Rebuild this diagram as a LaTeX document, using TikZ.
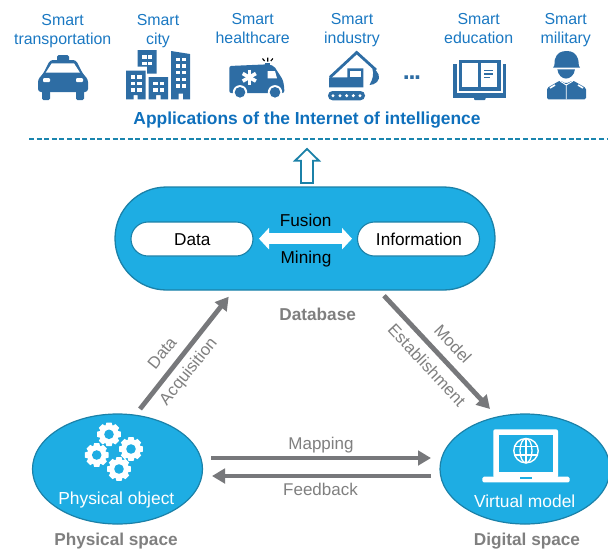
\documentclass[tikz,border=0pt]{standalone}
\usepackage{fontspec}
\setmainfont{Liberation Sans}
\usetikzlibrary{shapes.geometric,shapes.misc,arrows.meta}
\definecolor{icon}{HTML}{2E6DA4}
\definecolor{toptext}{HTML}{1A78C2}
\definecolor{title}{HTML}{0F70BC}
\definecolor{sky}{HTML}{1EADE3}
\definecolor{skyline}{HTML}{1B81A8}
\definecolor{arrowgray}{HTML}{77787B}
\definecolor{labelgray}{HTML}{7F7F7F}
\tikzset{
  lab/.style={anchor=base,inner sep=0pt,font=\fontsize{15.9}{18}\selectfont,text=toptext},
  graylab/.style={anchor=base,inner sep=0pt,font=\fontsize{17}{20}\selectfont,text=labelgray},
  spacelab/.style={anchor=base,inner sep=0pt,font=\fontsize{17.2}{20}\selectfont\bfseries,text=labelgray},
  whitelab/.style={anchor=base,inner sep=0pt,font=\fontsize{17.4}{20}\selectfont,text=white},
  blacklab/.style={anchor=base,inner sep=0pt,font=\fontsize{17.2}{20}\selectfont,text=black},
  rotlab/.style={anchor=center,inner sep=0pt,font=\fontsize{16.7}{20}\selectfont,text=labelgray},
  spaceshape/.style={ellipse,draw=skyline,fill=sky,line width=1.2pt,minimum width=170pt,minimum height=110pt,inner sep=0pt},
  pillwhite/.style={rounded rectangle,draw=skyline,fill=white,line width=1.1pt,minimum width=122pt,minimum height=34pt,inner sep=0pt},
  flow/.style={draw=arrowgray,line width=4.8pt,-{Triangle[length=13pt,width=14.5pt]}},
  win/.style={fill=white},
  ic/.style={fill=icon}
}
\newcommand{\winbox}[2]{\fill[win] (#1,#2) rectangle +(4.2,3.6);}
\newcommand{\gearicon}[2]{%
  \foreach \a in {0,45,...,315}{\fill[white,shift={(#1,#2)},rotate=\a] (-2.6,-11.8) -- (2.6,-11.8) -- (3.6,-8) -- (-3.6,-8) -- cycle;}
  \fill[white] (#1,#2) circle[radius=9.6];
  \fill[sky] (#1,#2) circle[radius=4.8];}
\begin{document}
\begin{tikzpicture}[x=1pt,y=-1pt]
\useasboundingbox (0,0) rectangle (608,550);

% top labels
\node[lab] (l1a) at (62.7,25) {Smart};
\node[lab] (l1b) at (62.7,44) {transportation};
\node[lab] (l2a) at (158,25) {Smart};
\node[lab] (l2b) at (158,44) {city};
\node[lab] (l3a) at (252.7,24) {Smart};
\node[lab] (l3b) at (252.7,43) {healthcare};
\node[lab] (l4a) at (352,24) {Smart};
\node[lab] (l4b) at (352,43) {industry};
\node[lab] (l5a) at (478.7,24) {Smart};
\node[lab] (l5b) at (478.7,43) {education};
\node[lab] (l6a) at (565.7,24) {Smart};
\node[lab] (l6b) at (565.7,43) {military};
\node[anchor=base,inner sep=0pt,font=\fontsize{25}{26}\selectfont\bfseries,text=icon] (dots) at (412,79.5) {.\kern-1.4pt.\kern-1.4pt.};
\node[anchor=base,inner sep=0pt,font=\fontsize{17.4}{20}\selectfont\bfseries,text=title] (apptitle) at (307,124) {Applications of the Internet of intelligence};
\draw[skyline!90!sky,line width=1.3pt,dash pattern=on 5pt off 2.6pt] (29,139) -- (607,139);

% taxi
\fill[ic,rounded corners=1.5pt] (57,61.5) -- (57,55) -- (69,55) -- (69,61.5) -- cycle;
\fill[ic,rounded corners=3pt] (50,60) -- (76,60) -- (83,74) -- (88,79) -- (88,92) -- (38,92) -- (38,79) -- (43,74) -- cycle;
\fill[ic,rounded corners=1.5pt] (42,88) rectangle (50,100);
\fill[ic,rounded corners=1.5pt] (76,88) rectangle (84,100);
\fill[white] (45.7,72.7) -- (51.7,63.3) -- (74,63.3) -- (80,72.7) -- cycle;
\fill[white,rounded corners=1pt] (43,78) rectangle (50,82);
\fill[white,rounded corners=1pt] (76,78) rectangle (83,82);

% city
\fill[ic] (137.5,50) -- (156.7,50) -- (156.7,73.5) -- (147,73.5) -- (147,66.5) -- (137.5,66.5) -- cycle;
\fill[ic] (126,70.7) -- (145.5,70.7) -- (145.5,99.3) -- (137.7,99.3) -- (137.7,95) -- (133.5,95) -- (133.5,99.3) -- (126,99.3) -- cycle;
\fill[ic] (148.7,77) -- (168,77) -- (168,99.3) -- (160.5,99.3) -- (160.5,95) -- (156,95) -- (156,99.3) -- (148.7,99.3) -- cycle;
\fill[ic] (171,51) -- (190,54) -- (190,99.3) -- (183,99.3) -- (183,93.5) -- (178.5,93.5) -- (178.5,99.3) -- (171,99.3) -- cycle;
\foreach \x in {142.3,147.7}{\foreach \y in {55,61.6}{\winbox{\x}{\y}}}
\foreach \x in {130.7,137.3}{\foreach \y in {75,81.7,88.3}{\winbox{\x}{\y}}}
\foreach \x in {153.3,160}{\foreach \y in {81.7,88.3}{\winbox{\x}{\y}}}
\foreach \x in {175.7,181.7}{\foreach \y in {57.5,64.2,70.8,77.5,84.2}{\winbox{\x}{\y}}}

% ambulance
\fill[ic,rounded corners=2pt] (229.3,66) -- (268,64.3) -- (274,66) -- (283,80) -- (284.3,88) -- (284.3,93) -- (229.3,93) -- cycle;
\fill[ic] (265,62.7) rectangle (270,66);
\draw[black,line width=1.1pt] (267.7,57.5) -- (267.7,61.5) (262.5,58.5) -- (264.6,61) (272.9,58.5) -- (270.8,61);
\fill[white] (267.7,71) -- (275,71) -- (277,78.3) -- (267.7,78.3) -- cycle;
\foreach \a in {0,60,120}{\draw[white,line width=3.6pt,shift={(249.3,77.3)},rotate=\a] (0,-7.6) -- (0,7.6);}
\foreach \x in {240,275}{\fill[white] (\x,92.3) circle[radius=7.2]; \fill[ic] (\x,92.3) circle[radius=5.3];}

% excavator
\draw[icon,line width=2.8pt] (330,77.3) -- (356.7,52.5) -- (376,70);
\fill[ic] (372.3,68.3) .. controls (379,71) and (381,78) .. (377,82) .. controls (375,84) and (372,85) .. (369.5,85) .. controls (373,79) and (374,74) .. (372.3,68.3) -- cycle;
\fill[ic] (329,77.3) -- (347.3,77.3) -- (347.3,68.3) -- (363.3,68.3) -- (363.3,87.3) -- (329,87.3) -- cycle;
\fill[white] (350,70.5) rectangle (360.7,77.3);
\fill[ic,rounded corners=4.5pt] (328,91) rectangle (365,100.3);
\foreach \x in {333,340,346.7,353.3,360}{\fill[white] (\x,95.7) circle[radius=1.7];}

% book
\fill[ic] (453,64) rectangle (506.3,98.3);
\fill[white] (456.7,64) rectangle (502.7,93.3);
\fill[ic] (459,60) rectangle (500.7,90.7);
\fill[white] (462.3,63.3) rectangle (478.3,87.3);
\fill[white] (480.7,63.3) rectangle (497.3,87.3);
\fill[ic] (484,70) rectangle (493.3,71.4);
\fill[ic] (484,73.3) rectangle (493.3,74.7);
\fill[ic] (484,77) rectangle (490.3,78.4);
\fill[ic,rounded corners=1pt] (474,97) rectangle (485.7,100);

% soldier
\fill[ic] (553,67.6) .. controls (555.5,66) and (554,61) .. (555,59) .. controls (557,53) and (561,51) .. (566.7,51) .. controls (572,51) and (576,53) .. (578,59) .. controls (579,61) and (578,66) .. (580,67.6) -- cycle;
\fill[ic] (557.4,69.4) .. controls (558,75) and (562,78.6) .. (566,78.6) .. controls (570,78.6) and (574.5,75) .. (574.9,69.4) -- cycle;
\fill[ic,rounded corners=1.5pt] (547,99.3) -- (547,88) -- (560,80.5) -- (566,83.5) -- (573,80.5) -- (586,88) -- (586,99.3) -- cycle;
\draw[white,line width=.9pt] (566.2,84) -- (566.2,99.3) (560,81) -- (566.2,85) -- (573,81);
\draw[white,line width=1.6pt] (550,88) -- (555,85) (578,85) -- (583,88);

% database
\node[rounded rectangle,draw=skyline,fill=sky,line width=1.3pt,minimum width=380pt,minimum height=103pt,inner sep=0pt] (db) at (305,238.5) {};
\node[pillwhite] (datapill) at (192,239) {};
\node[pillwhite] (infopill) at (418.5,239) {};
\node[blacklab] (datatxt) at (192.3,245) {Data};
\node[blacklab] (infotxt) at (419,245) {Information};
\node[blacklab] (fusion) at (305.7,226) {Fusion};
\node[blacklab] (mining) at (306,263) {Mining};
\coordinate (dl) at (259,238.7);
\coordinate (dr) at (352,238.7);
\draw[white,line width=11pt,{Triangle[length=10pt,width=21pt]}-{Triangle[length=10pt,width=21pt]}] (dl) -- (dr);

% open up arrow
\coordinate (upt) at (307,149);
\draw[skyline,line width=1.8pt,fill=white,line join=miter] (upt) -- (319,160.7) -- (313,160.7) -- (313,183) -- (301,183) -- (301,160.7) -- (295,160.7) -- cycle;

\node[spacelab] (dbl) at (317.7,320) {Database};

% ellipses
\node[spaceshape] (phys) at (117.5,469) {};
\node[spaceshape] (virt) at (525,469) {};
\node[whitelab] (physl) at (116.3,504) {Physical object};
\node[whitelab] (virtl) at (524.7,507.3) {Virtual model};
\node[spacelab] (physs) at (116,545.7) {Physical space};
\node[spacelab] (digs) at (527,545.7) {Digital space};

% gears
\gearicon{109}{434.3}
\gearicon{131}{449}
\gearicon{96.7}{455}
\gearicon{119}{469}

% laptop
\fill[white,rounded corners=2pt] (493.3,429.3) rectangle (558,478);
\fill[sky] (499.3,434.7) rectangle (552.7,472.3);
\fill[white,rounded corners=1.5pt] (482.3,476.7) -- (569.7,476.7) -- (569.7,482.3) -- (482.3,482.3) -- cycle;
\fill[sky] (520,476.7) rectangle (531.7,478.7);
\draw[white,line width=1.4pt] (526,450.7) circle[radius=12.2];
\draw[white,line width=1.3pt] (526,450.7) ellipse[x radius=6,y radius=12.2];
\draw[white,line width=1.3pt] (526,438.5) -- (526,462.9) (515,446.5) -- (537,446.5) (515,455) -- (537,455);

% flows
\coordinate (a1s) at (140,409);
\coordinate (a1e) at (228.7,296.7);
\coordinate (a2s) at (384,295.7);
\coordinate (a2e) at (490,409);
\coordinate (m1s) at (211,458);
\coordinate (m1e) at (431,458);
\coordinate (f1s) at (431,476);
\coordinate (f1e) at (212,476);
\draw[flow] (a1s) -- (a1e);
\draw[flow] (a2s) -- (a2e);
\draw[flow] (m1s) -- (m1e);
\draw[flow] (f1s) -- (f1e);
\node[rotlab,rotate=51] (ldata) at (162,353) {Data};
\node[rotlab,rotate=51] (lacq) at (189,372) {Acquisition};
\node[rotlab,rotate=-47] (lmodel) at (453,344) {Model};
\node[rotlab,rotate=-47] (lest) at (427,365) {Establishment};
\node[graylab] (mapl) at (321,449) {Mapping};
\node[graylab] (fbl) at (320.5,495.7) {Feedback};
\end{tikzpicture}
\end{document}
